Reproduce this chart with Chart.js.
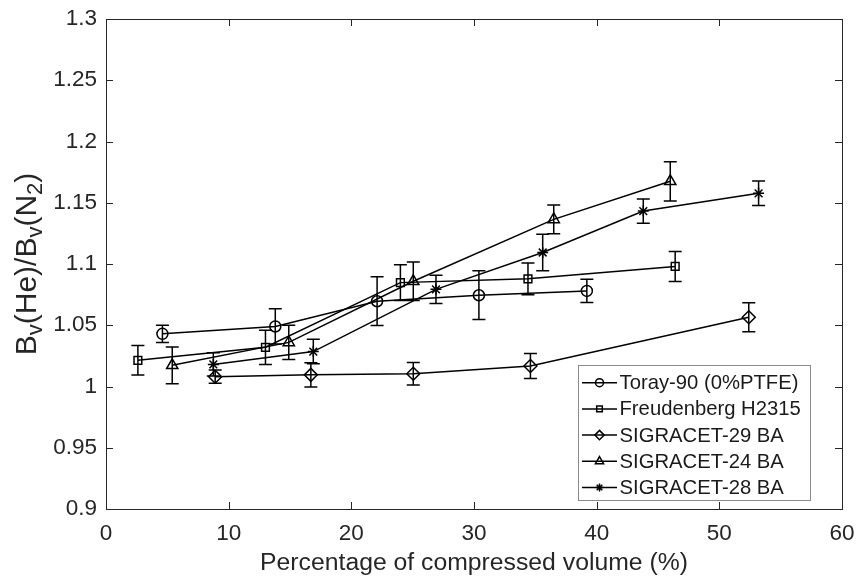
<!DOCTYPE html>
<html>
<head>
<meta charset="utf-8">
<script src="https://cdn.jsdelivr.net/npm/chart.js@4.4.0/dist/chart.umd.min.js"></script>
<style>
  html, body { margin: 0; padding: 0; background: #fff; }
  #wrap { width: 856px; height: 578px; }
</style>
</head>
<body>
<div id="wrap"><canvas id="c" width="856" height="578"></canvas></div>
<script>
// ---- data ----
const seriesNames = ['Toray-90 (0%PTFE)', 'Freudenberg H2315', 'SIGRACET-29 BA', 'SIGRACET-24 BA', 'SIGRACET-28 BA'];
const seriesMarkers = ['circle', 'rect', 'rectRot', 'triangle', 'star'];

const torayX = [4.6, 13.8, 22.1, 30.4, 39.2];
const torayY = [1.043, 1.049, 1.0696, 1.0745, 1.078];
const torayErr = [0.007, 0.0144, 0.0199, 0.0199, 0.0095];

const freudX = [2.6, 13.0, 24.0, 34.4, 46.4];
const freudY = [1.0214, 1.032, 1.0848, 1.0879, 1.098];
const freudErr = [0.012, 0.014, 0.0145, 0.0129, 0.0122];

const sig29X = [8.9, 16.7, 25.05, 34.6, 52.4];
const sig29Y = [1.008, 1.0095, 1.0104, 1.0167, 1.0565];
const sig29Err = [0.0054, 0.0099, 0.0091, 0.0102, 0.0118];

const sig24X = [5.4, 14.9, 25.05, 36.5, 46.0];
const sig24Y = [1.0173, 1.036, 1.0859, 1.1364, 1.1675];
const sig24Err = [0.015, 0.014, 0.0157, 0.0118, 0.016];

const sig28X = [8.75, 16.9, 26.9, 35.6, 43.8, 53.2];
const sig28Y = [1.018, 1.0285, 1.0793, 1.1094, 1.1432, 1.1577];
const sig28Err = [0.0095, 0.010, 0.0115, 0.0149, 0.0099, 0.010];

const xTickLabels = ['0', '10', '20', '30', '40', '50', '60'];
const yTickLabels = ['0.9', '0.95', '1', '1.05', '1.1', '1.15', '1.2', '1.25', '1.3'];
const xTitle = 'Percentage of compressed volume (%)';
const yTitleParts = [['B', 0], ['v', 1], ['(He)/B', 0], ['v', 1], ['(N', 0], ['2', 1], [')', 0]];

// ---- build ----
const FONT = "'Liberation Sans', Arial, Helvetica, sans-serif";
const INK = '#262626';
const TICK_FS = 22.5, LABEL_FS = 24.75, LEGEND_FS = 20.25;
const allX = [torayX, freudX, sig29X, sig24X, sig28X];
const allY = [torayY, freudY, sig29Y, sig24Y, sig28Y];
const allErr = [torayErr, freudErr, sig29Err, sig24Err, sig28Err];
const radii = [5.5, 5.5, 6.5, 6.5, 5.5];

const datasets = seriesNames.map((name, i) => ({
  label: name,
  data: allX[i].map((x, j) => ({ x: x, y: allY[i][j] })),
  errors: allErr[i],
  showLine: true,
  borderColor: '#000',
  borderWidth: 1.5,
  backgroundColor: 'rgba(0,0,0,0)',
  pointStyle: seriesMarkers[i],
  pointRadius: radii[i],
  pointHoverRadius: radii[i],
  pointBorderColor: '#000',
  pointBorderWidth: 1.5,
  pointBackgroundColor: 'rgba(0,0,0,0)',
  tension: 0
}));

const errorBarPlugin = {
  id: 'errorBars',
  afterDatasetsDraw(chart) {
    const ctx = chart.ctx;
    const xs = chart.scales.x, ys = chart.scales.y;
    ctx.save();
    ctx.strokeStyle = '#000';
    ctx.lineWidth = 1.5;
    chart.data.datasets.forEach(ds => {
      ds.data.forEach((p, j) => {
        const e = ds.errors[j];
        const px = xs.getPixelForValue(p.x);
        const y1 = ys.getPixelForValue(p.y - e);
        const y2 = ys.getPixelForValue(p.y + e);
        const cap = 6.5;
        ctx.beginPath();
        ctx.moveTo(px, y1); ctx.lineTo(px, y2);
        ctx.moveTo(px - cap, y1); ctx.lineTo(px + cap, y1);
        ctx.moveTo(px - cap, y2); ctx.lineTo(px + cap, y2);
        ctx.stroke();
      });
    });
    ctx.restore();
  }
};

const framePlugin = {
  id: 'frame',
  afterDraw(chart) {
    const ctx = chart.ctx;
    const a = chart.chartArea;
    const xs = chart.scales.x, ys = chart.scales.y;
    ctx.save();
    // inward ticks on all four sides
    ctx.strokeStyle = INK;
    ctx.lineWidth = 1;
    const tl = 7;
    xs.ticks.forEach((t, i) => {
      const px = Math.round(xs.getPixelForTick(i)) + 0.5;
      ctx.beginPath();
      ctx.moveTo(px, a.bottom); ctx.lineTo(px, a.bottom - tl);
      ctx.moveTo(px, a.top); ctx.lineTo(px, a.top + tl);
      ctx.stroke();
    });
    ys.ticks.forEach((t, i) => {
      const py = Math.round(ys.getPixelForTick(i)) + 0.5;
      ctx.beginPath();
      ctx.moveTo(a.left, py); ctx.lineTo(a.left + tl, py);
      ctx.moveTo(a.right, py); ctx.lineTo(a.right - tl, py);
      ctx.stroke();
    });
    // box
    ctx.strokeRect(Math.round(a.left) + 0.5, Math.round(a.top) + 0.5,
                   Math.round(a.right - a.left), Math.round(a.bottom - a.top));

    // legend
    const lx = 578.5, ly = 365.5, lw = 232, lh = 135;
    ctx.fillStyle = '#fff';
    ctx.fillRect(lx, ly, lw, lh);
    ctx.strokeStyle = '#8a8a8a';
    ctx.lineWidth = 1;
    ctx.strokeRect(lx, ly, lw, lh);
    const rowY0 = 382.7, rowStep = 26.2;
    chart.data.datasets.forEach((ds, i) => {
      const cy = rowY0 + i * rowStep;
      ctx.strokeStyle = '#000';
      ctx.lineWidth = 1.5;
      if (Chart.helpers && Chart.helpers.drawPoint) {
        ctx.fillStyle = '#fff';
        Chart.helpers.drawPoint(ctx, {
          pointStyle: ds.pointStyle, radius: ds.pointRadius * 0.72, borderWidth: 1.5, rotation: 0
        }, 599.5, cy);
      }
      ctx.beginPath();
      ctx.moveTo(582, cy); ctx.lineTo(617, cy);
      ctx.stroke();
      ctx.fillStyle = '#1a1a1a';
      ctx.font = LEGEND_FS + 'px ' + FONT;
      ctx.textAlign = 'left';
      ctx.textBaseline = 'middle';
      ctx.fillText(ds.label, 619.5, cy + 1);
    });

    // y axis title with subscripts
    ctx.save();
    ctx.translate(27, (a.top + a.bottom) / 2);
    ctx.rotate(-Math.PI / 2);
    ctx.fillStyle = INK;
    ctx.textBaseline = 'alphabetic';
    ctx.textAlign = 'left';
    const big = '30px ' + FONT, small = '22px ' + FONT;
    let total = 0;
    yTitleParts.forEach(([s, sub]) => { ctx.font = sub ? small : big; total += ctx.measureText(s).width; });
    let cx = -total / 2;
    yTitleParts.forEach(([s, sub]) => {
      ctx.font = sub ? small : big;
      ctx.fillText(s, cx, sub ? 15 : 9);
      cx += ctx.measureText(s).width;
    });
    ctx.restore();
    ctx.restore();
  }
};

new Chart(document.getElementById('c'), {
  type: 'scatter',
  data: { datasets: datasets },
  options: {
    responsive: false,
    animation: false,
    devicePixelRatio: 1,
    layout: { padding: { left: 0, right: 14, top: 19, bottom: 0 } },
    plugins: { legend: { display: false }, tooltip: { enabled: false } },
    scales: {
      x: {
        type: 'linear', min: 0, max: 60,
        grid: { display: false, drawTicks: false },
        border: { display: false },
        ticks: {
          stepSize: 10, padding: 11, color: INK,
          font: { family: FONT, size: TICK_FS },
          callback: (v) => xTickLabels[Math.round(v / 10)]
        },
        title: { display: true, text: xTitle, color: INK, font: { family: FONT, size: LABEL_FS }, padding: { top: 0, bottom: 0 } },
        afterFit: (s) => { s.height = 69; s.paddingLeft = 0; s.paddingRight = 0; }
      },
      y: {
        type: 'linear', min: 0.9, max: 1.3,
        grid: { display: false, drawTicks: false },
        border: { display: false },
        ticks: {
          stepSize: 0.05, padding: 9, color: INK,
          font: { family: FONT, size: TICK_FS },
          callback: (v) => yTickLabels[Math.round((v - 0.9) / 0.05)]
        },
        afterFit: (s) => { s.width = 106; s.paddingTop = 0; s.paddingBottom = 0; }
      }
    }
  },
  plugins: [errorBarPlugin, framePlugin]
});
</script>
</body>
</html>
